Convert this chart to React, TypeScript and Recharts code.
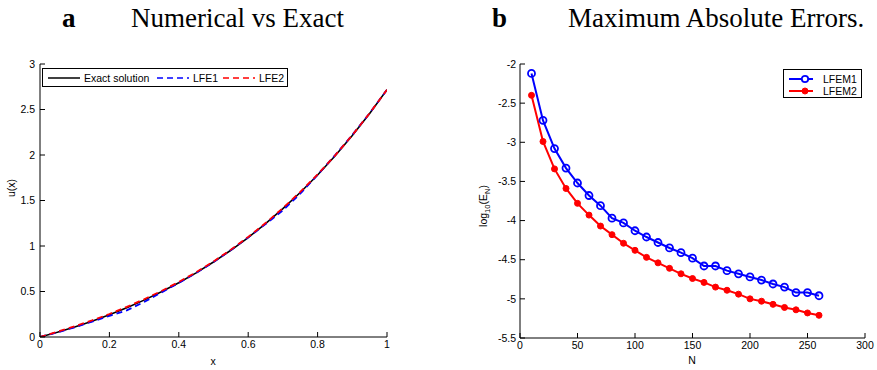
import { LineChart, Line, XAxis, YAxis, Legend, Label } from "recharts";

// panel a: numerical vs exact
const xValues = [0, 0.05, 0.1, 0.15, 0.2, 0.25, 0.3, 0.35, 0.4, 0.45, 0.5, 0.55, 0.6, 0.65, 0.7, 0.75, 0.8, 0.85, 0.9, 0.95, 1];
const exactU = [0, 0.053, 0.111, 0.174, 0.244, 0.321, 0.405, 0.497, 0.597, 0.705, 0.824, 0.953, 1.093, 1.245, 1.41, 1.588, 1.78, 1.989, 2.214, 2.456, 2.718];
const lfe1U = [0, 0.05, 0.107, 0.168, 0.232, 0.292, 0.385, 0.49, 0.594, 0.703, 0.824, 0.955, 1.095, 1.24, 1.392, 1.575, 1.782, 1.995, 2.22, 2.46, 2.718];
const lfe2U = [0, 0.058, 0.117, 0.182, 0.253, 0.331, 0.415, 0.506, 0.605, 0.712, 0.83, 0.96, 1.1, 1.252, 1.417, 1.594, 1.786, 1.994, 2.218, 2.459, 2.718];
const xTicks = [0, 0.2, 0.4, 0.6, 0.8, 1];
const uTicks = [0, 0.5, 1, 1.5, 2, 2.5, 3];

// panel b: maximum absolute errors (log10)
const nValues = [10, 20, 30, 40, 50, 60, 70, 80, 90, 100, 110, 120, 130, 140, 150, 160, 170, 180, 190, 200, 210, 220, 230, 240, 250, 260];
const lfem1Err = [-2.12, -2.72, -3.08, -3.33, -3.52, -3.68, -3.81, -3.97, -4.03, -4.13, -4.21, -4.28, -4.35, -4.41, -4.48, -4.58, -4.58, -4.64, -4.68, -4.72, -4.76, -4.81, -4.85, -4.92, -4.92, -4.96];
const lfem2Err = [-2.4, -2.99, -3.34, -3.59, -3.78, -3.93, -4.07, -4.18, -4.29, -4.38, -4.47, -4.54, -4.61, -4.68, -4.74, -4.79, -4.85, -4.89, -4.94, -5.0, -5.03, -5.07, -5.11, -5.14, -5.18, -5.21];
const nTicks = [0, 50, 100, 150, 200, 250, 300];
const errTicks = [-5.5, -5, -4.5, -4, -3.5, -3, -2.5, -2];

const rowsA = xValues.map((x, i) => ({ x, exact: exactU[i], lfe1: lfe1U[i], lfe2: lfe2U[i] }));
const rowsB = nValues.map((n, i) => ({ n, e1: lfem1Err[i], e2: lfem2Err[i] }));

const sans = "'Liberation Sans', Arial, sans-serif";
const serif = "'Liberation Serif', 'Times New Roman', serif";
const tickStyle = { fill: "#000", fontSize: 10.5, fontFamily: sans };

function LegendA() {
  const item = (left: number, color: string, dash: string | undefined, text: string) => (
    <>
      <svg style={{ position: "absolute", left, top: 4 }} width={32} height={10}>
        <line x1={0} y1={5} x2={32} y2={5} stroke={color} strokeWidth={1.5} strokeDasharray={dash} />
      </svg>
      <span style={{ position: "absolute", left: left + 36, top: 2, lineHeight: "14px" }}>{text}</span>
    </>
  );
  return (
    <div
      style={{
        position: "relative",
        width: 244,
        height: 17,
        border: "1px solid #000",
        background: "#fff",
        fontFamily: sans,
        fontSize: 10.5,
        color: "#000",
        whiteSpace: "nowrap",
      }}
    >
      {item(5, "#000", undefined, "Exact solution")}
      {item(114, "#0000ff", "6 4", "LFE1")}
      {item(180, "#ff0000", "6 4", "LFE2")}
    </div>
  );
}

function LegendB() {
  const row = (top: number, color: string, filled: boolean, text: string) => (
    <>
      <svg style={{ position: "absolute", left: 5, top }} width={26} height={10}>
        <line x1={0} y1={5} x2={24} y2={5} stroke={color} strokeWidth={2} />
        <circle cx={16} cy={5} r={filled ? 3 : 3.2} fill={filled ? color : "#fff"} stroke={color} strokeWidth={filled ? 1 : 1.8} />
      </svg>
      <span style={{ position: "absolute", left: 39, top: top - 2, lineHeight: "14px" }}>{text}</span>
    </>
  );
  return (
    <div
      style={{
        position: "relative",
        width: 77,
        height: 27,
        border: "1px solid #000",
        background: "#fff",
        fontFamily: sans,
        fontSize: 10.5,
        color: "#000",
        whiteSpace: "nowrap",
      }}
    >
      {row(3.5, "#0000ff", false, "LFEM1")}
      {row(15.5, "#ff0000", true, "LFEM2")}
    </div>
  );
}

export default function App() {
  return (
    <div style={{ position: "absolute", left: 0, top: 0, width: 877, height: 370, background: "#fff" }}>
      <svg style={{ position: "absolute", left: 0, top: 0 }} width={877} height={40}>
        <text x={62} y={27} fontFamily={serif} fontSize={27} fontWeight="bold">a</text>
        <text x={131} y={27} fontFamily={serif} fontSize={27}>Numerical vs Exact</text>
        <text x={492} y={27} fontFamily={serif} fontSize={27} fontWeight="bold">b</text>
        <text x={568} y={27} fontFamily={serif} fontSize={27}>Maximum Absolute Errors.</text>
      </svg>

      <div style={{ position: "absolute", left: 0, top: 0 }}>
        <LineChart width={440} height={370} data={rowsA} margin={{ top: 64, right: 53, bottom: 0, left: 0 }}>
          <XAxis
            dataKey="x"
            type="number"
            domain={[0, 1]}
            ticks={xTicks}
            height={33}
            tickSize={-5}
            tickMargin={9}
            tick={tickStyle}
            stroke="#000"
            allowDataOverflow
          >
            <Label
              content={() => (
                <text x={213} y={365} textAnchor="middle" fontFamily={sans} fontSize={10.5} fill="#000">x</text>
              )}
            />
          </XAxis>
          <XAxis xAxisId="top" orientation="top" type="number" domain={[0, 1]} ticks={xTicks} height={0} tickSize={-5} tick={false} stroke="#000" />
          <YAxis
            type="number"
            domain={[0, 3]}
            ticks={uTicks}
            width={40}
            tickSize={-5}
            tickMargin={10}
            tick={tickStyle}
            stroke="#000"
            allowDataOverflow
          >
            <Label
              content={() => (
                <text x={15} y={188} transform="rotate(-90 15 188)" textAnchor="middle" fontFamily={sans} fontSize={10.5} fill="#000">u(x)</text>
              )}
            />
          </YAxis>
          <YAxis yAxisId="right" orientation="right" type="number" domain={[0, 3]} ticks={uTicks} width={0} tickSize={-5} tick={false} stroke="#000" />
          <Legend
            layout="horizontal"
            align="center"
            verticalAlign="middle"
            wrapperStyle={{ left: 42, top: 68, width: "auto" }}
            content={() => <LegendA />}
          />
          <Line dataKey="exact" stroke="#000" strokeWidth={1.6} dot={false} isAnimationActive={false} />
          <Line dataKey="lfe1" stroke="#0000ff" strokeWidth={1.8} strokeDasharray="6 4" dot={false} isAnimationActive={false} />
          <Line dataKey="lfe2" stroke="#ff0000" strokeWidth={1.8} strokeDasharray="6 4" dot={false} isAnimationActive={false} />
        </LineChart>
      </div>

      <div style={{ position: "absolute", left: 440, top: 0 }}>
        <LineChart width={437} height={370} data={rowsB} margin={{ top: 64, right: 12, bottom: 0, left: 0 }}>
          <XAxis
            dataKey="n"
            type="number"
            domain={[0, 300]}
            ticks={nTicks}
            height={32}
            tickSize={-5}
            tickMargin={9}
            tick={tickStyle}
            stroke="#000"
          >
            <Label
              content={() => (
                <text x={252} y={364} textAnchor="middle" fontFamily={sans} fontSize={10.5} fill="#000">N</text>
              )}
            />
          </XAxis>
          <XAxis xAxisId="top" orientation="top" type="number" domain={[0, 300]} ticks={nTicks} height={0} tickSize={-5} tick={false} stroke="#000" />
          <YAxis
            type="number"
            domain={[-5.5, -2]}
            ticks={errTicks}
            width={80}
            tickSize={-5}
            tickMargin={9}
            tick={tickStyle}
            stroke="#000"
          >
            <Label
              content={() => (
                <text x={47} y={206} transform="rotate(-90 47 206)" textAnchor="middle" fontFamily={sans} fontSize={10.5} fill="#000">
                  <tspan>log</tspan>
                  <tspan dy={3} fontSize={7.5}>10</tspan>
                  <tspan dy={-3}>(E</tspan>
                  <tspan dy={3} fontSize={7.5}>N</tspan>
                  <tspan dy={-3}>)</tspan>
                </text>
              )}
            />
          </YAxis>
          <YAxis yAxisId="right" orientation="right" type="number" domain={[-5.5, -2]} ticks={errTicks} width={0} tickSize={-5} tick={false} stroke="#000" />
          <Legend
            layout="horizontal"
            align="center"
            verticalAlign="middle"
            wrapperStyle={{ left: 343, top: 69, width: "auto" }}
            content={() => <LegendB />}
          />
          <Line
            dataKey="e1"
            stroke="#0000ff"
            strokeWidth={2}
            dot={{ r: 3.5, fill: "none", stroke: "#0000ff", strokeWidth: 1.8 }}
            isAnimationActive={false}
          />
          <Line
            dataKey="e2"
            stroke="#ff0000"
            strokeWidth={2}
            dot={{ r: 3, fill: "#ff0000", stroke: "#ff0000", strokeWidth: 1 }}
            isAnimationActive={false}
          />
        </LineChart>
      </div>
    </div>
  );
}
